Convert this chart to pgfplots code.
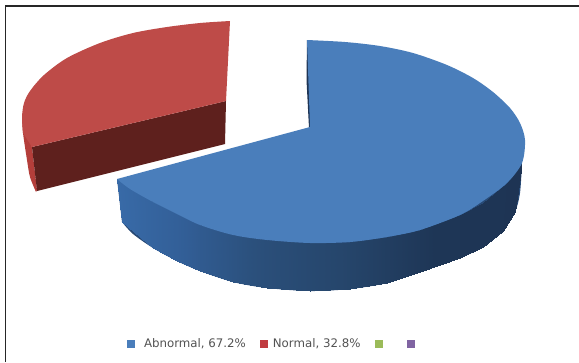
\documentclass[border=0pt]{standalone}
\usepackage{pgfplots}
\pgfplotsset{compat=1.18}
\usepackage{fontspec}
\setmainfont{DejaVu Sans}
\definecolor{blueTop}{RGB}{74,126,187}
\definecolor{blueBase}{RGB}{40,74,118}
\definecolor{blueCut}{RGB}{30,52,84}
\definecolor{redTop}{RGB}{190,75,72}
\definecolor{redRim}{RGB}{180,62,58}
\definecolor{redCut}{RGB}{94,32,29}
\definecolor{legBlue}{RGB}{74,126,187}
\definecolor{legRed}{RGB}{192,60,64}
\definecolor{legGreen}{RGB}{155,187,89}
\definecolor{legPurple}{RGB}{128,100,162}
\begin{document}
\begin{tikzpicture}
\path[use as bounding box] (0,0) rectangle (579pt,362pt);
\begin{axis}[
  at={(0,0)}, anchor=south west,
  scale only axis, width=579pt, height=362pt,
  xmin=0, xmax=579, ymin=0, ymax=362, y dir=reverse,
  hide axis, clip=true,
  colormap={rim}{rgb255=(56,106,167) rgb255=(50,94,150) rgb255=(43,80,124) rgb255=(38,70,108) rgb255=(30,54,86) rgb255=(30,52,84)},
  point meta min=0, point meta max=1,
  legend columns=4,
  legend style={draw=none, fill=none, at={(axis cs:127,344)}, anchor=west, inner sep=0pt, outer sep=0pt,
    font=\fontsize{11.8}{13}\selectfont, text=black!68,
    /tikz/every odd column/.append style={column sep=9pt},
    /tikz/every even column/.append style={column sep=14pt},
    nodes={inner sep=0pt, outer sep=0pt},
  },
  legend image code/.code={\fill[draw=none,#1] (0pt,-4pt) rectangle (8pt,4pt);},
]
% frame, open at right and bottom
\addplot[black!85, line width=1.4pt, forget plot] coordinates {(5.5,362) (5.5,6) (579,6)};

% Normal, 32.8% : exploded slice
\addplot[smooth, draw=none, fill=redRim, forget plot] coordinates {
  (22,117) (23,133) (27,160) (30,177) (36,192)} -- (37,190) -- (32,147) -- cycle;
\addplot[draw=none, fill=redCut, forget plot] coordinates {
  (32,147) (226,101) (225,144) (37,191)} -- cycle;
\addplot[smooth, draw=none, fill=redTop, forget plot] coordinates {
  (230,21) (200,23) (167,27) (133,33) (100,43) (67,58) (44,75) (30,91) (24,103) (22,117) (23,133)}
  -- (32,147) -- (226,101) -- cycle;

% Abnormal, 67.2% : outer wall, then shaded bands, then top face
\addplot[smooth, draw=none, fill=blueBase, forget plot] coordinates {
  (122,222) (133,234) (153,248) (177,261) (200,271) (233,282) (267,288) (310,291) (350,289)
  (387,283) (420,272) (460,258) (483,247) (503,231) (515,212) (520,193) (522,163)}
  -- (300,200) -- (117,179) -- cycle;
\addplot[patch, patch type=rectangle, shader=interp, point meta=explicit, forget plot] table[meta=c] {
x y c
117 179 0.00
122 222 0.00
153 248 0.10
153 202 0.10
153 202 0.10
153 248 0.10
177 261 0.17
177 214 0.17
177 214 0.17
177 261 0.17
200 271 0.25
200 225 0.25
200 225 0.25
200 271 0.25
233 282 0.34
233 235 0.34
233 235 0.34
233 282 0.34
267 288 0.44
267 240 0.44
267 240 0.44
267 288 0.44
310 291 0.54
310 243 0.54
310 243 0.54
310 291 0.54
350 289 0.62
350 242 0.62
350 242 0.62
350 289 0.62
387 283 0.70
387 237 0.70
387 237 0.70
387 283 0.70
420 272 0.77
420 230 0.77
420 230 0.77
420 272 0.77
460 258 0.85
460 215 0.85
460 215 0.85
460 258 0.85
483 247 0.90
483 203 0.90
483 203 0.90
483 247 0.90
503 231 0.95
507 183 0.95
507 183 0.95
503 231 0.95
515 212 1.00
522 163 1.00
};
\addplot[draw=none, fill=blueCut, forget plot] coordinates {
  (307,40) (306.5,80) (309,128) (312,128) (309,60)} -- cycle;
\addplot[smooth, draw=none, fill=blueTop, forget plot] coordinates {
  (307,40) (345,42) (380,46) (413,53) (447,65) (473,78) (493,92) (510,108) (520,123) (525,140) (522,163)
  (507,183) (483,201) (460,215) (420,230) (387,237) (350,242) (310,243) (267,240) (233,235)
  (200,225) (177,214) (153,202) (130,189) (117,179)} -- (310,127) -- cycle;

\addlegendimage{fill=legBlue}
\addlegendentry{Abnormal, 67.2\%}
\addlegendimage{fill=legRed}
\addlegendentry{\hspace{-4pt}Normal, 32.8\%\hspace{3pt}}
\addlegendimage{fill=legGreen}
\addlegendentry{\hspace{-5pt}}
\addlegendimage{fill=legPurple}
\addlegendentry{}
\end{axis}
\end{tikzpicture}
\end{document}
